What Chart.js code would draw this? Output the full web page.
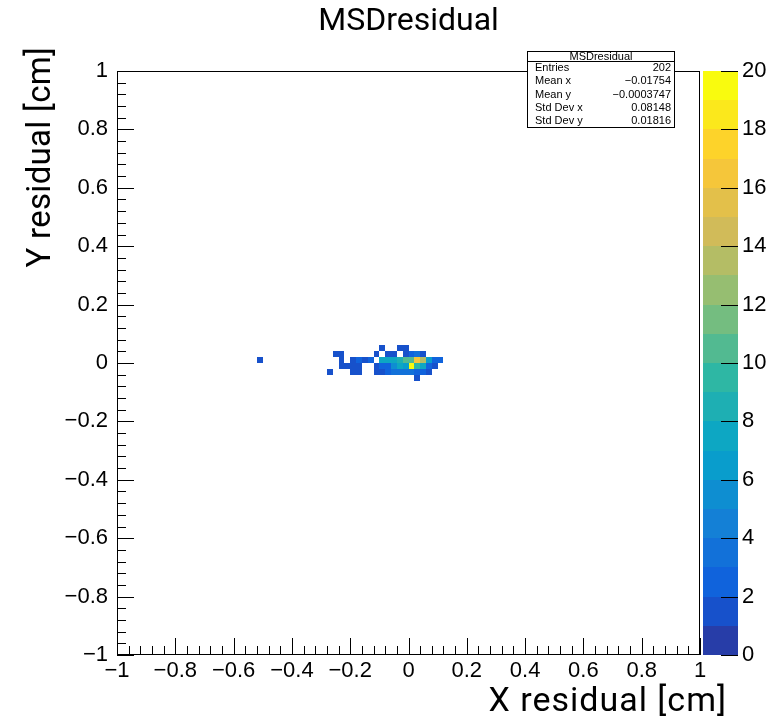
<!DOCTYPE html>
<html><head><meta charset="utf-8">
<script src="https://cdn.jsdelivr.net/npm/chart.js@4/dist/chart.umd.min.js"></script>
<style>html,body{margin:0;padding:0;background:#fff;}canvas{display:block}</style>
</head><body>
<canvas id="c" width="781" height="719"></canvas>
<script>
const chartTitle = 'MSDresidual';
const xAxisTitle = 'X residual [cm]';
const yAxisTitle = 'Y residual [cm]';
const binWidth = 0.02;
// lower edges of the filled bins and their contents
const cellX = [
  -0.10,-0.04,-0.02,
  -0.26,-0.24,-0.12,-0.08,-0.06,-0.02,0.00,0.02,0.04,
  -0.52,-0.24,-0.20,-0.18,-0.16,-0.14,-0.10,-0.08,-0.06,-0.04,-0.02,0.00,0.02,0.04,0.06,0.08,0.10,
  -0.24,-0.22,-0.20,-0.18,-0.12,-0.10,-0.08,-0.06,-0.04,-0.02,0.00,0.02,0.04,0.06,0.08,
  -0.28,-0.20,-0.18,-0.12,-0.10,-0.08,-0.06,-0.04,-0.02,0.00,0.02,0.04,0.06,
  0.02
];
const cellY = [
  0.04,0.04,0.04,
  0.02,0.02,0.02,0.02,0.02,0.02,0.02,0.02,0.02,
  0,0,0,0,0,0,0,0,0,0,0,0,0,0,0,0,0,
  -0.02,-0.02,-0.02,-0.02,-0.02,-0.02,-0.02,-0.02,-0.02,-0.02,-0.02,-0.02,-0.02,-0.02,-0.02,
  -0.04,-0.04,-0.04,-0.04,-0.04,-0.04,-0.04,-0.04,-0.04,-0.04,-0.04,-0.04,-0.04,
  -0.06
];
const cellCount = [
  1,1,1,
  1,1,1,1,1,1,2,3,1,
  1,1,1,2,1,2,7,7,7,8,10,10,16,13,6,2,2,
  1,1,1,1,1,2,2,5,7,6,20,9,7,2,1,
  1,1,1,1,1,2,3,3,3,3,2,2,1,
  1
];
const xTickValues = [-1,-0.8,-0.6,-0.4,-0.2,0,0.2,0.4,0.6,0.8,1];
const yTickValues = [-1,-0.8,-0.6,-0.4,-0.2,0,0.2,0.4,0.6,0.8,1];
const zTickValues = [0,2,4,6,8,10,12,14,16,18,20];
const statsLabels = ['Entries','Mean x','Mean y','Std Dev x','Std Dev y'];
const statsValues = ['202','\u22120.01754','\u22120.0003747','0.08148','0.01816'];

const zMin = 0, zMax = 20, nLevels = 20;
const birdStops = [0,0.125,0.25,0.375,0.5,0.625,0.75,0.875,1];
const birdR = [0.2082,0.0592,0.0780,0.0232,0.1802,0.5301,0.8186,0.9956,0.9764];
const birdG = [0.1664,0.3599,0.5041,0.6419,0.7178,0.7492,0.7328,0.7862,0.9832];
const birdB = [0.5293,0.8684,0.8385,0.7914,0.6425,0.4662,0.3499,0.1968,0.0539];
function birdColor(t){
  let k = 0;
  while (k < birdStops.length-2 && t > birdStops[k+1]) k++;
  const f = (t - birdStops[k])/(birdStops[k+1]-birdStops[k]);
  const c = a => Math.round(255*(a[k] + f*(a[k+1]-a[k])));
  return 'rgb('+c(birdR)+','+c(birdG)+','+c(birdB)+')';
}
function levelIndexColor(lvl){
  const idx = Math.min(254, Math.floor((lvl+0.99)*255/nLevels));
  return birdColor(idx/254);
}
function contentColor(z){
  let lvl = Math.floor(0.01 + (z-zMin)*nLevels/(zMax-zMin));
  if (lvl > nLevels-1) lvl = nLevels-1;
  return levelIndexColor(lvl);
}
function fmt(v){
  const r = Math.round(v*10)/10;
  let s = String(Math.abs(r));
  return (r < 0 ? '\u2212' : '') + s;
}

const tickFont = {family:"'Liberation Sans', Arial, sans-serif", size:22};

const heatmapPlugin = {
  id:'heatmap',
  beforeDatasetsDraw(chart){
    const {ctx, chartArea:a, scales:{x, y}} = chart;
    ctx.save();
    ctx.beginPath(); ctx.rect(a.left, a.top, a.right-a.left, a.bottom-a.top); ctx.clip();
    chart.data.datasets[0].data.forEach(p => {
      const x0 = Math.round(x.getPixelForValue(p.x - binWidth/2));
      const x1 = Math.round(x.getPixelForValue(p.x + binWidth/2));
      const y0 = Math.round(y.getPixelForValue(p.y + binWidth/2));
      const y1 = Math.round(y.getPixelForValue(p.y - binWidth/2));
      ctx.fillStyle = contentColor(p.v);
      ctx.fillRect(x0, y0, x1-x0, y1-y0);
    });
    ctx.restore();
  },
  afterDatasetsDraw(chart){
    const {ctx, chartArea:a, scales:{x, y}} = chart;
    ctx.save();
    ctx.strokeStyle = '#000'; ctx.lineWidth = 1;
    ctx.strokeRect(Math.round(a.left)+0.5, Math.round(a.top)+0.5, Math.round(a.right-a.left)-1, Math.round(a.bottom-a.top)-1);
    ctx.beginPath();
    for (let i = 0; i <= 50; i++){
      const v = -1 + i*0.04;
      const len = (i % 5 === 0) ? 17 : 9;
      const px = Math.round(x.getPixelForValue(v)) + 0.5;
      ctx.moveTo(px, a.bottom); ctx.lineTo(px, a.bottom - len);
      const py = Math.round(y.getPixelForValue(v)) + 0.5;
      ctx.moveTo(a.left, py); ctx.lineTo(a.left + len, py);
    }
    ctx.stroke();
    ctx.restore();
  },
  afterDraw(chart){
    const {ctx, chartArea:a, scales:{z}} = chart;
    ctx.save();
    // colour bar
    const bx0 = Math.round(a.right) + 3, bx1 = bx0 + 35;
    for (let l = 0; l < nLevels; l++){
      const yTop = Math.round(z.getPixelForValue(zMin + (l+1)*(zMax-zMin)/nLevels));
      const yBot = Math.round(z.getPixelForValue(zMin + l*(zMax-zMin)/nLevels));
      ctx.fillStyle = levelIndexColor(l);
      ctx.fillRect(bx0, yTop, bx1-bx0, yBot-yTop);
    }
    ctx.strokeStyle = '#000'; ctx.lineWidth = 1;
    ctx.beginPath();
    zTickValues.forEach(v => {
      const py = Math.round(z.getPixelForValue(v)) + 0.5;
      ctx.moveTo(bx1, py); ctx.lineTo(bx1 - 17, py);
    });
    ctx.stroke();
    // axis titles
    ctx.fillStyle = '#000';
    ctx.font = "34px Roboto, 'Liberation Sans', sans-serif";
    ctx.textAlign = 'right'; ctx.textBaseline = 'alphabetic';
    ctx.letterSpacing = '1px';
    ctx.fillText(xAxisTitle, 727, 711);
    ctx.save();
    ctx.translate(50, 47); ctx.rotate(-Math.PI/2);
    ctx.font = "33px Roboto, 'Liberation Sans', sans-serif";
    ctx.letterSpacing = '0.3px';
    ctx.fillText(yAxisTitle, 0, 0);
    ctx.restore();
    ctx.letterSpacing = '0px';
    // stats box
    const L = 527.5, R = 674.5, T = 51.5, B = 127.5, D = 61.5;
    ctx.fillStyle = '#fff'; ctx.fillRect(L, T, R-L, B-T);
    ctx.strokeStyle = '#000';
    ctx.strokeRect(L, T, R-L, B-T);
    ctx.beginPath(); ctx.moveTo(L, D); ctx.lineTo(R, D); ctx.stroke();
    ctx.fillStyle = '#000';
    ctx.font = "11px 'Liberation Sans', Arial, sans-serif";
    ctx.textBaseline = 'middle';
    ctx.textAlign = 'center';
    ctx.fillText(chartTitle, (L+R)/2, 56.5);
    const rowH = (B - D)/statsLabels.length;
    statsLabels.forEach((lab, i) => {
      const yy = D + rowH*(i+0.5);
      ctx.textAlign = 'left'; ctx.fillText(lab, 535, yy);
      ctx.textAlign = 'right'; ctx.fillText(statsValues[i], 671, yy);
    });
    ctx.restore();
  }
};

new Chart(document.getElementById('c'), {
  type: 'scatter',
  data: {
    datasets: [{
      label: chartTitle,
      data: cellX.map((cx, i) => ({x: cx + binWidth/2, y: cellY[i] + binWidth/2, v: cellCount[i]})),
      pointRadius: 0, pointHoverRadius: 0, showLine: false
    }]
  },
  options: {
    responsive: false, animation: false, devicePixelRatio: 1,
    layout: {padding: 0},
    plugins: {
      legend: {display: false},
      tooltip: {enabled: false},
      title: {display: true, text: chartTitle, fullSize: false, color: '#000',
        font: {family: "Roboto, 'Liberation Sans', sans-serif", size: 32, weight: 'normal'},
        padding: {top: 3, bottom: 29.6}}
    },
    scales: {
      x: {type: 'linear', position: 'bottom', min: -1, max: 1,
        grid: {display: false, drawTicks: false}, border: {display: false},
        afterBuildTicks: s => { s.ticks = xTickValues.map(v => ({value: v})); },
        ticks: {autoSkip: false, maxRotation: 0, color: '#000', font: tickFont, padding: 3, callback: v => fmt(v)},
        afterFit: s => { s.height = 64; }
      },
      y: {type: 'linear', position: 'left', min: -1, max: 1,
        grid: {display: false, drawTicks: false}, border: {display: false},
        afterBuildTicks: s => { s.ticks = yTickValues.map(v => ({value: v})); },
        ticks: {autoSkip: false, color: '#000', font: tickFont, padding: 9, callback: v => fmt(v)},
        afterFit: s => { s.width = 117; }
      },
      z: {type: 'linear', axis: 'y', position: 'right', min: zMin, max: zMax,
        grid: {display: false, drawTicks: false}, border: {display: false},
        afterBuildTicks: s => { s.ticks = zTickValues.map(v => ({value: v})); },
        ticks: {autoSkip: false, color: '#000', font: tickFont, padding: 42, callback: v => String(v)},
        afterFit: s => { s.width = 81; }
      }
    }
  },
  plugins: [heatmapPlugin]
});
</script>
</body></html>
